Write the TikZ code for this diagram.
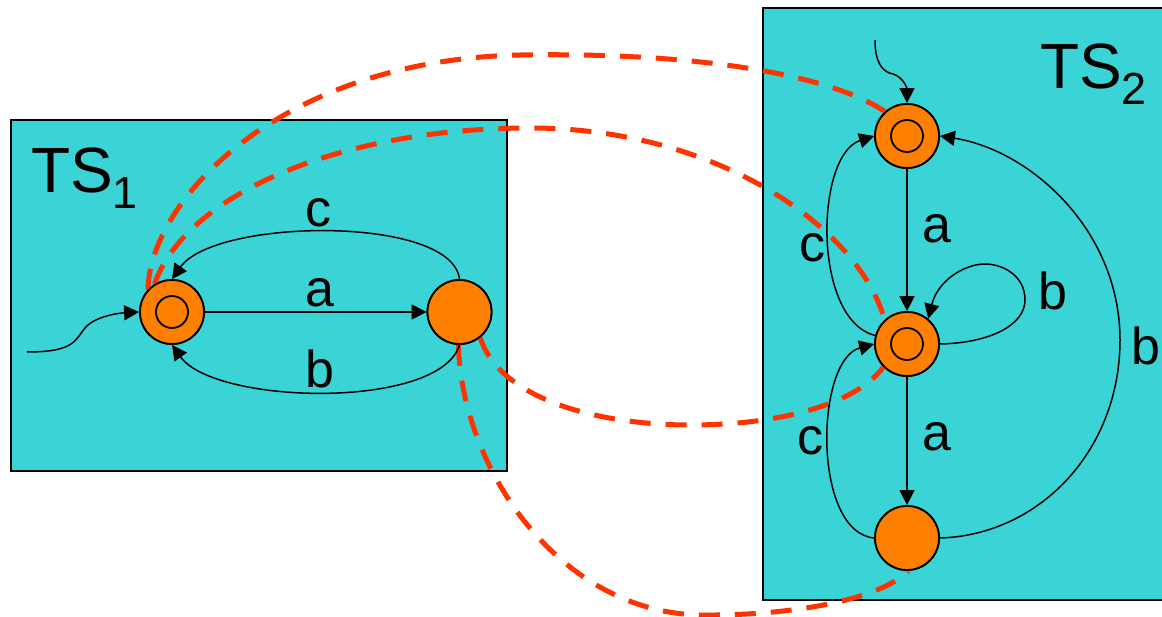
\documentclass[tikz,border=0pt]{standalone}
\usepackage{fontspec}
\setmainfont{Liberation Sans}
\usetikzlibrary{arrows.meta}
\definecolor{tsfill}{RGB}{58,212,214}
\definecolor{stfill}{RGB}{255,128,0}
\definecolor{simred}{RGB}{255,51,0}
\tikzset{
  tsbox/.style={draw=black,line width=1.8pt,fill=tsfill},
  state/.style={circle,draw=black,line width=1.8pt,fill=stfill,minimum size=64pt,inner sep=0pt},
  trans/.style={line width=1.5pt,-{Triangle[length=15pt,width=15pt]}},
  lbl/.style={font=\fontsize{52}{56}\selectfont,anchor=base,inner sep=0pt},
  tslbl/.style={font=\fontsize{64}{70}\selectfont,anchor=base west,inner sep=0pt},
  sim/.style={draw=simred,line width=5pt,dash pattern=on 21pt off 15pt},
  inner/.style={line width=1.8pt}
}
\newcommand{\tssub}[1]{\raisebox{-16pt}{\fontsize{45}{45}\selectfont #1}}
\begin{document}
\begin{tikzpicture}[x=1pt,y=-1pt]
\useasboundingbox (0,0) rectangle (1162,617);
% boxes
\path[tsbox] (11,120) rectangle (507,471);
\path[tsbox] (763,8) rectangle (1175,600);
\node[tslbl] (ts1) at (31,193) {TS\tssub{1}};
\node[tslbl] (ts2) at (1040,89) {TS\tssub{2}};
% states (placed first as coordinates for anchors)
\node[state] (s0) at (172,312) {};
\node[state] (s1) at (459.5,312) {};
\node[state] (t0) at (907,136) {};
\node[state] (t1) at (907,344) {};
\node[state] (t2) at (907,538) {};
% simulation relation (dashed)
\path[sim] (s0.137) .. controls (150,200) and (280,60) .. (520,55)
   .. controls (700,52) and (830,75) .. (t0.132);
\path[sim] (s0.122) .. controls (185,195) and (340,128) .. (530,128)
   .. controls (720,128) and (860,230) .. (t1.133);
\path[sim] (s1.-51) .. controls (500,400) and (600,425) .. (690,425)
   .. controls (790,425) and (860,400) .. (t1.-136);
\path[sim] (s1.-92) .. controls (462,470) and (560,612) .. (700,615)
   .. controls (790,616) and (880,600) .. (t2.-88);
% redraw states on top
\node[state] at (s0) {};
\node[state] at (s1) {};
\node[state] at (t0) {};
\node[state] at (t1) {};
\node[state] at (t2) {};
\draw[inner] (s0) circle (16pt);
\draw[inner] (t0) circle (16pt);
\draw[inner] (t1) circle (16pt);
% initial arrows
\coordinate (i1) at (27,352);
\coordinate (i2) at (875,40);
\draw[trans] (i1) .. controls (75,352) and (75,340) .. (85,328)
   .. controls (95,316) and (120,313) .. (s0.west);
\draw[trans] (i2) .. controls (875,62) and (882,72) .. (893,74)
   .. controls (903,77) and (907,88) .. (t0.north);
% TS1 transitions
\draw[trans] (s0.east) -- (s1.west);
\draw[trans] (s1.north) .. controls (452,215) and (215,218) .. (s0.north);
\draw[trans] (s1.south) .. controls (440,410) and (215,405) .. (s0.south);
\node[lbl] (l1c) at (318,227) {c};
\node[lbl] (l1a) at (320,307) {a};
\node[lbl] (l1b) at (320,388) {b};
% TS2 transitions
\draw[trans] (t0.south) -- (t1.north);
\draw[trans] (t1.south) -- (t2.north);
\draw[trans] (t1.165) .. controls (812,320) and (815,155) .. (t0.west);
\draw[trans] (t2.west) .. controls (812,532) and (815,360) .. (t1.west);
\draw[trans] (t2.east) .. controls (1040,535) and (1120,450) .. (1120,340)
   .. controls (1120,230) and (1030,150) .. (t0.east);
\draw[trans] (t1.east) .. controls (990,343) and (1025,325) .. (1025,300)
   .. controls (1025,275) and (1002,264) .. (985,264)
   .. controls (965,264) and (938,280) .. (t1.50);
\node[lbl] (l2a) at (937,243) {a};
\node[lbl] (l2c) at (812,262) {c};
\node[lbl] (l2b) at (1053,310) {b};
\node[lbl] (l2bb) at (1146,365) {b};
\node[lbl] (l2a2) at (937,450) {a};
\node[lbl] (l2c2) at (810,454) {c};
\end{tikzpicture}
\end{document}
